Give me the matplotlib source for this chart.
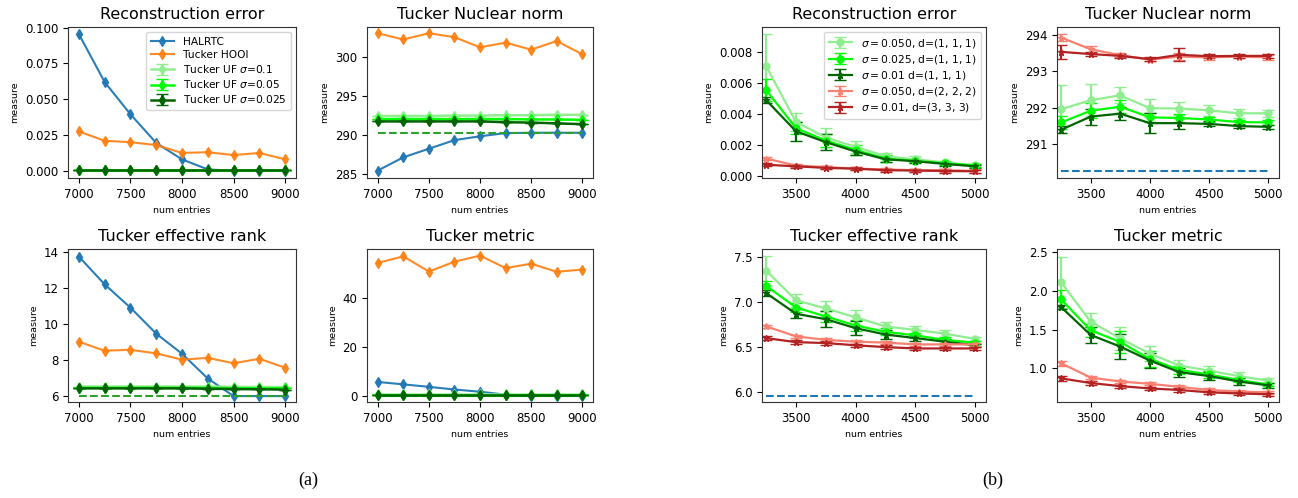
import numpy as np
import matplotlib
matplotlib.use('Agg')
import matplotlib.pyplot as plt

# ---- data: panel (a), num entries 7000..9000
x_a = [7000, 7250, 7500, 7750, 8000, 8250, 8500, 8750, 9000]

recon_halrtc = [0.0955, 0.062, 0.0395, 0.0195, 0.008, 0.001, 0.0, 0.0, 0.0]
recon_hooi = [0.0275, 0.021, 0.020, 0.018, 0.0125, 0.013, 0.011, 0.0125, 0.008]
recon_uf01 = [0.0003, 0.0003, 0.0003, 0.0003, 0.0003, 0.0003, 0.0003, 0.0003, 0.0003]
recon_uf005 = [0.0003, 0.0003, 0.0003, 0.0003, 0.0003, 0.0003, 0.0003, 0.0003, 0.0003]
recon_uf0025 = [0.0003, 0.0003, 0.0003, 0.0003, 0.0003, 0.0003, 0.0003, 0.0003, 0.0003]
recon_true = 0.0

nuc_halrtc = [285.4, 287.1, 288.2, 289.3, 289.8, 290.2, 290.25, 290.25, 290.25]
nuc_hooi = [303.0, 302.2, 303.0, 302.5, 301.2, 301.8, 300.9, 302.0, 300.3]
nuc_uf01 = [292.4, 292.4, 292.4, 292.45, 292.45, 292.5, 292.5, 292.55, 292.55]
nuc_uf005 = [292.0, 292.0, 292.0, 292.0, 292.0, 292.0, 291.95, 291.95, 291.9]
nuc_uf0025 = [291.7, 291.7, 291.7, 291.7, 291.7, 291.6, 291.55, 291.45, 291.35]
nuc_true = 290.25

rank_halrtc = [13.75, 12.2, 10.9, 9.45, 8.33, 6.95, 5.97, 5.97, 5.97]
rank_hooi = [9.0, 8.5, 8.55, 8.35, 8.0, 8.1, 7.8, 8.05, 7.55]
rank_uf01 = [6.5, 6.5, 6.5, 6.5, 6.5, 6.5, 6.48, 6.48, 6.47]
rank_uf005 = [6.43, 6.43, 6.43, 6.43, 6.43, 6.42, 6.41, 6.4, 6.4]
rank_uf0025 = [6.4, 6.4, 6.4, 6.4, 6.4, 6.38, 6.36, 6.35, 6.33]
rank_true = 5.97

met_halrtc = [5.7, 4.7, 3.7, 2.6, 1.7, 0.5, 0.0, 0.0, 0.0]
met_hooi = [54.3, 57.0, 50.8, 54.8, 57.3, 52.2, 54.0, 50.7, 51.6]
met_uf01 = [0.6, 0.6, 0.6, 0.6, 0.6, 0.6, 0.6, 0.6, 0.6]
met_uf005 = [0.5, 0.5, 0.5, 0.5, 0.5, 0.5, 0.5, 0.5, 0.5]
met_uf0025 = [0.4, 0.4, 0.4, 0.4, 0.4, 0.4, 0.4, 0.4, 0.4]
met_true = 0.0

# ---- data: panel (b), num entries 3250..5000
x_b = [3250, 3500, 3750, 4000, 4250, 4500, 4750, 5000]

rec_g050 = [0.00708, 0.0035, 0.0025, 0.0019, 0.0013, 0.0011, 0.0009, 0.00072]
rec_g050_err = [0.0021, 0.0006, 0.0006, 0.0004, 0.0002, 0.0002, 0.0001, 0.0001]
rec_g025 = [0.00555, 0.0031, 0.0023, 0.0017, 0.00115, 0.001, 0.00085, 0.0007]
rec_g025_err = [0.0007, 0.0004, 0.0004, 0.0003, 0.0002, 0.0001, 0.0001, 0.0001]
rec_g010 = [0.0049, 0.0029, 0.0022, 0.0016, 0.0011, 0.00098, 0.0008, 0.00065]
rec_g010_err = [0.0002, 0.0006, 0.0005, 0.0002, 0.0002, 0.0001, 0.0001, 0.0001]
rec_r050 = [0.00115, 0.0007, 0.0006, 0.0005, 0.00045, 0.0004, 0.0004, 0.00035]
rec_r050_err = [0.0001, 0.0001, 0.0001, 0.0001, 0.0001, 0.0001, 0.0001, 0.0001]
rec_r010 = [0.00075, 0.00065, 0.00055, 0.0005, 0.0004, 0.00038, 0.00035, 0.00033]
rec_r010_err = [0.0001, 0.0001, 0.0001, 0.0001, 0.0001, 0.0001, 0.0001, 0.0001]

nb_g050 = [291.96, 292.21, 292.34, 291.99, 291.98, 291.93, 291.85, 291.85]
nb_g050_err = [0.65, 0.43, 0.22, 0.25, 0.18, 0.15, 0.13, 0.1]
nb_g025 = [291.6, 291.92, 292.03, 291.74, 291.72, 291.68, 291.61, 291.6]
nb_g025_err = [0.17, 0.2, 0.17, 0.12, 0.1, 0.08, 0.07, 0.06]
nb_g010 = [291.4, 291.76, 291.84, 291.58, 291.58, 291.56, 291.5, 291.48]
nb_g010_err = [0.1, 0.22, 0.18, 0.27, 0.15, 0.07, 0.06, 0.05]
nb_r050 = [293.92, 293.6, 293.44, 293.32, 293.4, 293.38, 293.4, 293.38]
nb_r050_err = [0.1, 0.1, 0.06, 0.05, 0.1, 0.06, 0.05, 0.06]
nb_r010 = [293.53, 293.47, 293.42, 293.33, 293.45, 293.41, 293.42, 293.42]
nb_r010_err = [0.2, 0.06, 0.05, 0.05, 0.18, 0.06, 0.06, 0.06]
nb_true = 290.28

rb_g050 = [7.35, 7.02, 6.93, 6.83, 6.73, 6.69, 6.65, 6.59]
rb_g050_err = [0.16, 0.07, 0.08, 0.08, 0.05, 0.05, 0.04, 0.02]
rb_g025 = [7.18, 6.94, 6.84, 6.74, 6.67, 6.63, 6.58, 6.55]
rb_g025_err = [0.05, 0.05, 0.06, 0.06, 0.04, 0.03, 0.03, 0.02]
rb_g010 = [7.1, 6.87, 6.81, 6.71, 6.64, 6.6, 6.56, 6.52]
rb_g010_err = [0.03, 0.05, 0.09, 0.08, 0.05, 0.03, 0.03, 0.02]
rb_r050 = [6.73, 6.62, 6.58, 6.56, 6.55, 6.53, 6.53, 6.53]
rb_r050_err = [0.02, 0.02, 0.02, 0.02, 0.02, 0.02, 0.02, 0.02]
rb_r010 = [6.6, 6.555, 6.545, 6.52, 6.5, 6.485, 6.485, 6.485]
rb_r010_err = [0.02, 0.02, 0.02, 0.02, 0.02, 0.02, 0.02, 0.02]
rb_true = 5.96

mb_g050 = [2.11, 1.6, 1.385, 1.19, 1.035, 0.97, 0.9, 0.84]
mb_g050_err = [0.33, 0.12, 0.15, 0.1, 0.07, 0.06, 0.05, 0.03]
mb_g025 = [1.89, 1.49, 1.34, 1.12, 0.98, 0.92, 0.85, 0.79]
mb_g025_err = [0.12, 0.08, 0.14, 0.1, 0.05, 0.04, 0.03, 0.02]
mb_g010 = [1.79, 1.43, 1.28, 1.1, 0.95, 0.9, 0.83, 0.78]
mb_g010_err = [0.03, 0.1, 0.16, 0.1, 0.06, 0.05, 0.04, 0.03]
mb_r050 = [1.065, 0.88, 0.83, 0.8, 0.76, 0.72, 0.7, 0.69]
mb_r050_err = [0.03, 0.02, 0.02, 0.02, 0.02, 0.02, 0.02, 0.02]
mb_r010 = [0.87, 0.81, 0.77, 0.74, 0.72, 0.69, 0.675, 0.665]
mb_r010_err = [0.03, 0.02, 0.02, 0.02, 0.02, 0.02, 0.02, 0.02]

uf_err_a = [0.0, 0.0, 0.0, 0.0, 0.0, 0.0, 0.0, 0.0, 0.0]

plt.rcParams['font.family'] = 'DejaVu Sans'
plt.rcParams['xtick.labelsize'] = 8.5
plt.rcParams['ytick.labelsize'] = 8.5
plt.rcParams['axes.titlesize'] = 11.5
plt.rcParams['axes.labelsize'] = 6.8
plt.rcParams['axes.edgecolor'] = '#333333'

W, H = 1298, 498
fig = plt.figure(figsize=(W / 100, H / 100), dpi=100)


def add_ax(left, right, top, bottom):
    return fig.add_axes([left / W, (H - bottom) / H, (right - left) / W, (bottom - top) / H])


uf_cols = ['#90ee90', '#00ff00', '#006400']
uf_labels = [r'Tucker UF $\sigma$=0.1', r'Tucker UF $\sigma$=0.05', r'Tucker UF $\sigma$=0.025']


def panel_a(ax, title, halrtc, hooi, ufs, true_val, ylim, yticks):
    ax.plot(x_a, halrtc, marker='d', color='#1f77b4', lw=1.5, ms=5.5, alpha=0.95, label='HALRTC')
    ax.plot(x_a, hooi, marker='d', color='#ff7f0e', lw=1.5, ms=5.5, alpha=0.9, label='Tucker HOOI')
    for vals, c, lab in zip(ufs, uf_cols, uf_labels):
        ax.errorbar(x_a, vals, yerr=uf_err_a, marker='d', color=c, lw=1.8, ms=5.5,
                    capsize=4, label=lab)
    ax.plot([x_a[0], x_a[-1]], [true_val, true_val], '--', color='#2ca02c', lw=1.5)
    ax.set_title(title)
    ax.set_xlabel('num entries')
    ax.set_ylabel('measure')
    ax.set_xlim(6895, 9105)
    ax.set_ylim(*ylim)
    ax.set_yticks(yticks)
    ax.set_xticks([7000, 7500, 8000, 8500, 9000])


ax = add_ax(68, 296, 27, 178)
panel_a(ax, 'Reconstruction error', recon_halrtc, recon_hooi,
        [recon_uf01, recon_uf005, recon_uf0025], recon_true,
        (-0.005, 0.1004), [0.0, 0.025, 0.05, 0.075, 0.1])
ax.legend(loc='upper right', fontsize=7.7, handlelength=2.2, labelspacing=0.3)

ax = add_ax(367, 593, 27, 178)
panel_a(ax, 'Tucker Nuclear norm', nuc_halrtc, nuc_hooi,
        [nuc_uf01, nuc_uf005, nuc_uf0025], nuc_true,
        (284.45, 303.8), [285, 290, 295, 300])

ax = add_ax(68, 296, 249, 402)
panel_a(ax, 'Tucker effective rank', rank_halrtc, rank_hooi,
        [rank_uf01, rank_uf005, rank_uf0025], rank_true,
        (5.64, 14.17), [6, 8, 10, 12, 14])

ax = add_ax(367, 593, 249, 402)
panel_a(ax, 'Tucker metric', met_halrtc, met_hooi,
        [met_uf01, met_uf005, met_uf0025], met_true,
        (-2.5, 60.0), [0, 20, 40])

b_cols = ['#90ee90', '#00ff00', '#006400', '#fa8072', '#b22222']
b_marks = ['o', 'o', '*', '*', '*']
b_labels = [r'$\sigma = 0.050$, d=(1, 1, 1)', r'$\sigma = 0.025$, d=(1, 1, 1)',
            r'$\sigma = 0.01$ d=(1, 1, 1)', r'$\sigma = 0.050$, d=(2, 2, 2)',
            r'$\sigma = 0.01$, d=(3, 3, 3)']


def panel_b(ax, title, series, errs, true_val, ylim, yticks):
    for vals, err, c, m, lab in zip(series, errs, b_cols, b_marks, b_labels):
        ax.errorbar(x_b, vals, yerr=err, marker=m, color=c, lw=1.6, ms=5,
                    capsize=4, label=lab)
    if true_val is not None:
        ax.plot([x_b[0], x_b[-1]], [true_val, true_val], '--', color='#1f77b4', lw=1.5)
    ax.set_title(title)
    ax.set_xlabel('num entries')
    ax.set_ylabel('measure')
    ax.set_xlim(3215, 5092)
    ax.set_ylim(*ylim)
    ax.set_yticks(yticks)
    ax.set_xticks([3500, 4000, 4500, 5000])


ax = add_ax(762, 986, 27, 178)
panel_b(ax, 'Reconstruction error',
        [rec_g050, rec_g025, rec_g010, rec_r050, rec_r010],
        [rec_g050_err, rec_g025_err, rec_g010_err, rec_r050_err, rec_r010_err],
        None, (-0.0001, 0.0096), [0.0, 0.002, 0.004, 0.006, 0.008])
ax.set_yticklabels(['0.000', '0.002', '0.004', '0.006', '0.008'])
ax.legend(loc='upper right', fontsize=7.7, handlelength=2.2, labelspacing=0.3)

ax = add_ax(1057, 1279, 27, 178)
panel_b(ax, 'Tucker Nuclear norm',
        [nb_g050, nb_g025, nb_g010, nb_r050, nb_r010],
        [nb_g050_err, nb_g025_err, nb_g010_err, nb_r050_err, nb_r010_err],
        nb_true, (290.08, 294.21), [291, 292, 293, 294])

ax = add_ax(762, 986, 249, 402)
panel_b(ax, 'Tucker effective rank',
        [rb_g050, rb_g025, rb_g010, rb_r050, rb_r010],
        [rb_g050_err, rb_g025_err, rb_g010_err, rb_r050_err, rb_r010_err],
        rb_true, (5.89, 7.59), [6.0, 6.5, 7.0, 7.5])

ax = add_ax(1057, 1279, 249, 402)
panel_b(ax, 'Tucker metric',
        [mb_g050, mb_g025, mb_g010, mb_r050, mb_r010],
        [mb_g050_err, mb_g025_err, mb_g010_err, mb_r050_err, mb_r010_err],
        None, (0.565, 2.54), [1.0, 1.5, 2.0, 2.5])

fig.text(308 / W, 1 - 480 / H, '(a)', ha='center', va='center',
         fontsize=13, family='Liberation Serif')
fig.text(993 / W, 1 - 480 / H, '(b)', ha='center', va='center',
         fontsize=13, family='Liberation Serif')

fig.savefig('out.png', dpi=100)
